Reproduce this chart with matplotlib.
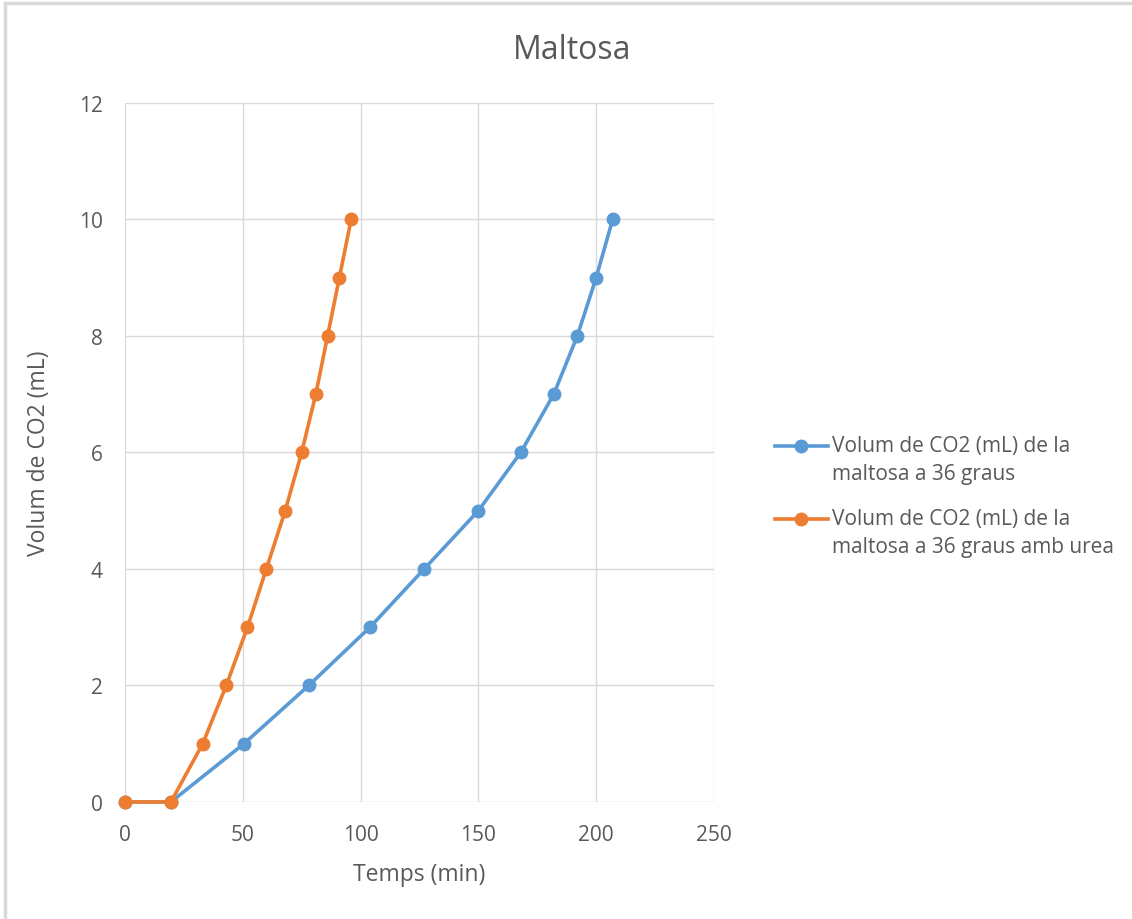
import matplotlib.pyplot as plt
from matplotlib.lines import Line2D

plt.rcParams['font.family'] = ['Open Sans', 'DejaVu Sans']

# Temps (min) i volum de CO2 (mL)
temps_36 = [0, 19.5, 50.5, 78, 104, 127, 150, 168, 182, 192, 200, 207]
volum_36 = [0, 0, 1, 2, 3, 4, 5, 6, 7, 8, 9, 10]
temps_urea = [0, 19.5, 33, 43, 52, 60, 68, 75, 81, 86, 91, 96]
volum_urea = [0, 0, 1, 2, 3, 4, 5, 6, 7, 8, 9, 10]

label_36 = 'Volum de CO2 (mL) de la\nmaltosa a 36 graus'
label_urea = 'Volum de CO2 (mL) de la\nmaltosa a 36 graus amb urea'

grey = '#595959'
blue = '#5B9BD5'
orange = '#ED7D31'

fig = plt.figure(figsize=(11.32, 9.2), dpi=100)
ax = fig.add_axes([0.1104, 0.1272, 0.5203, 0.7598])

l1, = ax.plot(temps_36, volum_36, color=blue, lw=2.6, marker='o', ms=9, clip_on=False)
l2, = ax.plot(temps_urea, volum_urea, color=orange, lw=2.6, marker='o', ms=9, clip_on=False)

ax.set_xlim(0, 250)
ax.set_ylim(0, 12)
ax.set_xticks(range(0, 251, 50))
ax.set_yticks(range(0, 13, 2))
ax.grid(True, color='#d9d9d9', lw=1)
ax.set_axisbelow(True)
for s in ax.spines.values():
    s.set_visible(False)
ax.tick_params(length=0, labelsize=15, colors=grey, pad=16)
ax.set_xlabel('Temps (min)', fontsize=16.5, color=grey, labelpad=12)
ax.set_ylabel('Volum de CO2 (mL)', fontsize=16.5, color=grey, labelpad=20)

fig.text(0.505, 0.945, 'Maltosa', ha='center', va='center', fontsize=23, color=grey)

# Llegenda: el símbol alineat amb la primera línia del text
leg_x0, leg_x1, txt_x = 775 / 1132, 828 / 1132, 832 / 1132
for line, label, y in [(l1, label_36, 1 - 447 / 920), (l2, label_urea, 1 - 520 / 920)]:
    fig.add_artist(Line2D([leg_x0, leg_x1], [y, y], color=line.get_color(), lw=2.6,
                          transform=fig.transFigure))
    fig.add_artist(Line2D([(leg_x0 + leg_x1) / 2], [y], color=line.get_color(), marker='o', ms=9,
                          transform=fig.transFigure))
    fig.text(txt_x, y + 0.012, label, ha='left', va='top', fontsize=15, color=grey,
             linespacing=1.45)

# Vora del gràfic
fig.add_artist(Line2D([0.004, 1], [0.9955, 0.9955], color='#d9d9d9', lw=2.5, transform=fig.transFigure))
fig.add_artist(Line2D([0.0044, 0.0044], [0, 0.9955], color='#d9d9d9', lw=2.5, transform=fig.transFigure))

fig.savefig('out.png', dpi=100, facecolor='white')
